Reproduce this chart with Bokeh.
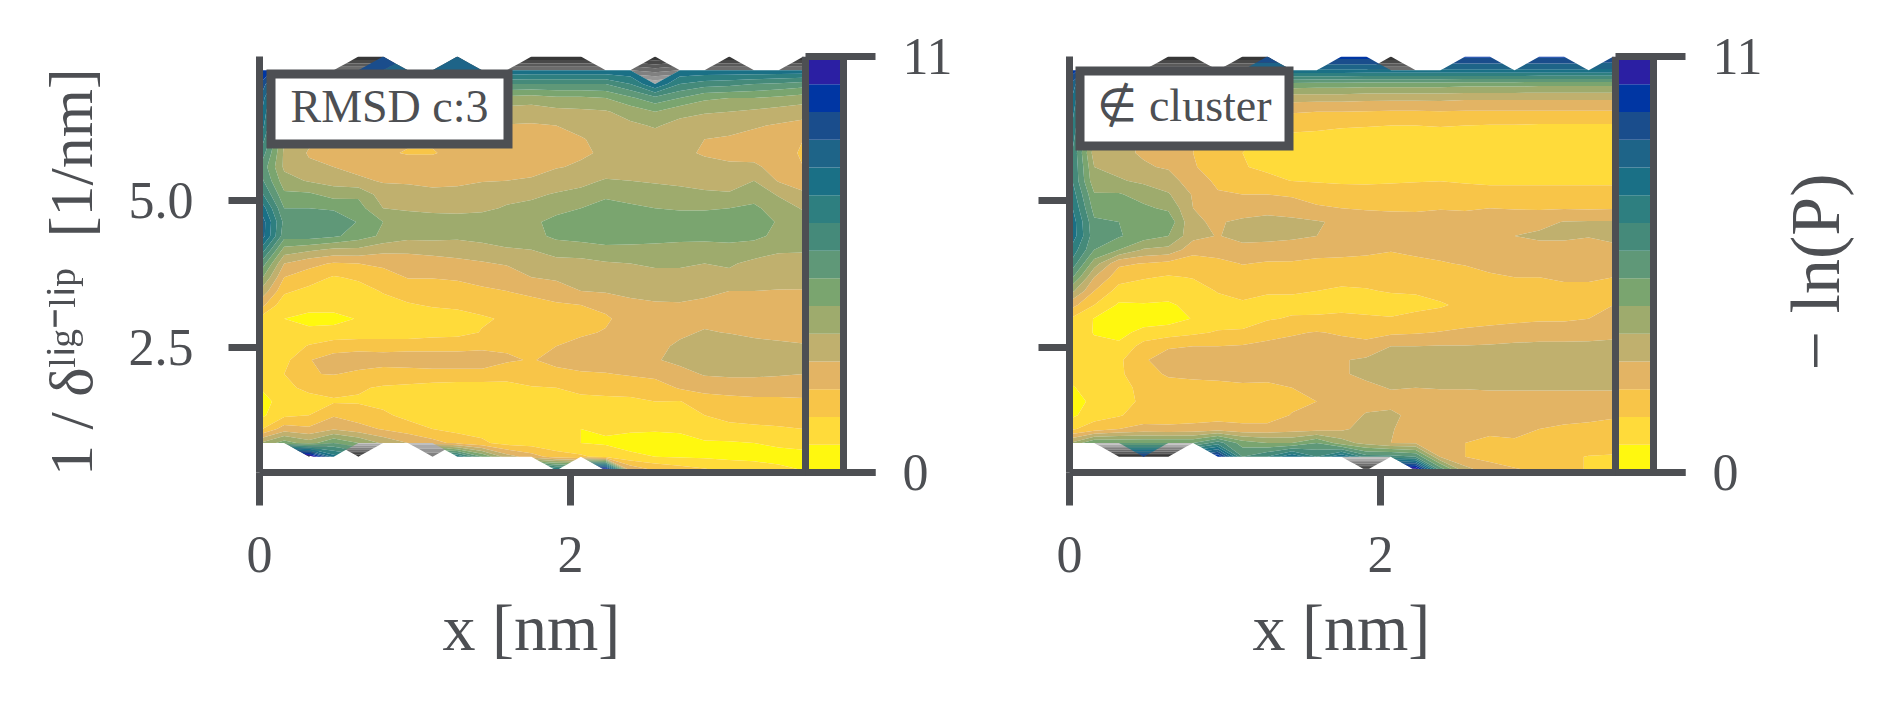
import numpy as np
from bokeh.embed import file_html
from bokeh.layouts import row
from bokeh.models import BoxAnnotation, FixedTicker, Label, LinearAxis, Range1d, Title
from bokeh.plotting import figure
from bokeh.resources import INLINE

N = float("nan")

# grid of the two free-energy surfaces
X_GRID = [i * 0.159 for i in range(23)]
Y_GRID = [7.449 - i * 0.2347 for i in range(31)]
SCALE = 11 / 15  # values below are written in colour-band units

A_COLS = [
 [N, 14,13,12,11.5,11,10,9,8,8.5,9.5, 11,12,12,10,8,6.5,5,3.5,1.8,1.3, 1.2,1.2,1.2,1,.8,.7,1.8,5,N,N],
 [N, 12,9,7,6,5.5,5,4.8,4.8,5.4,6.2, 7,7.7,7.4,5.6,4,3,2.2,1.3,1,1.2, 1.3,1.7,2,1.7,1.2,1.8,3.5,6.5,N,N],
 [N, 13,8,6.5,5.5,4.8,4.2,3.9,4.2,4.9,6.2, 7,7.7,7.5,5.2,3.3,2.5,1.7,1.3,.75,1.2, 2.1,2.95,2.95,2.3,1.5,2,3.2,5.5,16,N],
 [N, 12,8,6,5,4.4,4,3.7,4,4.6,5.6, 6.9,7.5,7.2,4.8,2.9,1.9,1.4,1.3,.75,1.3, 2.6,3.4,3.05,2.3,1.9,2.9,3.9,7,10.5,N],
 [N, 12,8,6,4.8,4,3.5,3.4,3.7,4.2,5.8, 6.4,6.95,6.5,4.8,3,2.2,1.5,1.2,1.05,1.4, 2.7,3.5,2.8,2.1,1.9,2.5,3.4,6,N,N],
 [13, 12,8,6,4.7,3.9,3.3,3.1,3.5,3.9,4.5, 5,6,5.8,4.3,3.2,2.6,2.1,1.5,1.2,1.4, 2.7,3.4,2.6,1.9,1.7,2.2,2.9,4.8,N,N],
 [N, 11,7.5,5.8,4.5,3.8,3.1,2.95,3.4,3.9,4.3, 4.9,5.4,5.3,4.3,3.3,3.05,2.5,1.9,1.2,1.4, 2.7,3.5,2.6,1.8,1.2,1.7,2.5,4,N,N],
 [N, 11,7.5,5.6,4.4,3.7,3.1,2.95,3.4,3.8,4.2, 4.8,5.4,5.3,4.4,3.5,3.05,2.5,2.1,1.5,1.6, 2.7,3.5,2.7,1.6,1.2,1.5,2,3.4,N,N],
 [11.5, 11,7.5,5.5,4.4,3.8,3.3,3.2,3.5,3.8,4.3, 4.8,5.3,5.2,4.5,3.7,3.1,2.7,2.2,1.6,1.7, 2.7,3.5,2.7,1.5,1.2,1.3,1.7,2.7,10,N],
 [N, 11,8,5.8,4.6,4,3.4,3.3,3.5,3.95,4.5, 4.8,5.5,5.4,4.6,3.9,3.2,2.9,2.3,1.9,2.05, 2.8,3.5,2.7,1.5,1.2,1.2,1.6,2.2,7,N],
 [N, 11,8,5.7,4.5,3.95,3.5,3.4,3.6,4,4.7, 5.1,5.6,5.5,4.9,4.1,3.4,3,2.4,2.1,2.4, 2.9,3.1,2.5,1.6,1.3,1.2,1.4,1.6,4.5,N],
 [N, 10.8,8,5.5,4.5,3.9,3.6,3.4,3.7,4.1,4.8, 5.3,5.8,5.7,5,4.5,4,3.2,2.7,2.4,2.6, 2.9,2.95,2.4,1.95,1.6,1.2,1.1,1.5,3.5,N],
 [N, 10.8,8,5.8,4.7,4,3.7,3.5,3.95,4.4,5.1, 5.7,6.3,6.2,5.5,4.6,4.2,3.4,2.9,2.7,2.7, 3,3.2,2.8,2,1.7,1.4,1.2,1.3,2.5,10.5],
 [N, 10.8,8,5.8,4.8,4.2,3.95,3.9,4.1,4.7,5.3, 6,6.5,6.4,5.5,4.7,4.3,4,3,2.8,2.9, 3.2,3.4,2.9,2.2,1.8,1.5,1,1,2.2,N],
 [N, 10.8,8,6,4.9,4.4,4.2,4.1,4.4,5.1,5.8, 6.4,6.7,6.6,5.7,4.9,4.5,4.1,3.2,2.9,3.05, 3.3,3.6,2.95,2.3,1.8,1.5,1.1,.9,1.6,16],
 [N, 10.8,9,6.8,5.4,4.8,4.4,4.2,4.6,5,5.6, 6.2,6.7,6.5,5.7,5,4.6,4.2,3.8,3.3,3.2, 3.5,3.8,3.1,2.4,1.8,1.5,1.15,.6,1.25,4],
 [N, N,11,7.7,6,5.1,4.6,4.3,4.5,4.9,5.4, 6,6.6,6.5,5.6,5.1,4.8,4.3,3.9,3.5,3.4, 3.7,3.9,3.3,2.5,2,1.6,1.1,.6,1,3],
 [N, 10.8,9,7,5.3,4.7,4.4,4.2,4.4,4.8,5.3, 5.9,6.5,6.4,5.5,5.1,4.8,4.2,3.95,3.6,3.8, 4.2,4.3,3.6,3.1,1.95,1.6,1.15,.65,.9,2.6],
 [N, 10.8,8.5,6.2,5.1,4.4,4,3.9,4.3,4.8,5.1, 5.9,6.5,6.4,5.4,5,4.5,4.1,3.9,3.7,4.1, 4.5,4.4,4.1,3.3,2.6,2,1.5,.9,.85,2.2],
 [N, 10.8,8.3,6,5,4.3,3.9,3.7,4.2,4.6,5.1, 6,6.6,6.5,5.5,5.1,4.8,4,3.8,3.7,3.95, 4.6,4.8,4.2,3.4,2.7,2.3,1.7,.9,.75,1.8],
 [N, 10.8,8,6,4.8,4.1,3.7,3.6,4.2,5,5.6, 6.2,6.5,6.3,5.4,4.8,4.4,4,3.7,3.6,3.8, 4.3,4.7,4.2,3.4,2.8,2.4,1.8,1,.7,1.6],
 [N, 10.8,7.8,5.8,4.6,3.9,3.5,3.3,3.6,3.9,4.9, 5.5,5.9,5.7,5.1,4.7,4.4,3.95,3.5,3.4,3.7, 4.2,4.6,4.1,3.4,2.8,2.4,1.9,1.2,.6,1.3],
 [N, 10.8,7.5,5.5,4.4,3.7,3,2.9,3,3.7,4.1, 4.9,5.4,5.3,5.1,4.6,4.3,3.95,3.4,3.3,3.6, 4.1,4.4,4,3.3,2.9,2.5,2,1.3,.7,1],
]

B_COLS = [
 [N, 14,12,11.5,11,10.5,10,9.5,9.5,9.5,10, 10.5,11,11,10,9,7.5,5.5,3.5,2,1.6, 1.5,1.3,1.2,.9,.6,.7,1.8,5,N,N],
 [N, 11,8,6,5.5,5,4.8,4.5,5,5.3,6.1, 6.6,7.2,7.4,7,5.5,4,3,2,.95,.95, 1.2,1.5,1.4,1.3,1.2,1.6,2.5,7,N,N],
 [N, 11,7,5,4.8,4.4,4.2,4.2,4.7,5.1,6.1, 6.6,7,7.1,6,3.2,2.4,1.6,.85,.4,.7, 1.2,1.8,1.8,1.5,1.4,1.9,3,7,N,N],
 [N, 11,7,5,4.2,3.9,3.9,3.9,4.1,4.8,5.6, 6.2,6.9,6.5,4.9,2.95,2.1,1.4,.95,.5,1.3, 2.4,2.95,2.7,2.4,2.3,2.5,3.3,7,13.5,N],
 [N, 11,7,4.8,3.9,3.5,3.3,3.5,3.9,4.4,5.1, 5.8,6.7,6,4.7,2.7,1.9,1.3,.9,.6,1.5, 2.95,3.2,3.1,2.7,2.5,2.6,3.2,7,N,N],
 [N, 11,7,4.7,3.6,3,3.1,3,3.1,3.5,3.9, 4,4.1,4.3,3.4,2.4,2.05,1.6,1.2,1.05,1.8, 3,3.4,3.2,2.7,2.5,2.6,3.3,7,N,N],
 [N, 10.8,7,4.6,3.4,2.8,2.3,2.2,2.5,2.8,3.1, 3.4,3.9,3.95,3.5,2.7,2.2,2.05,1.7,1.5,2.1, 3,3.5,3.2,2.8,2.5,2.6,3.5,8.5,14,N],
 [N, 10.8,6.8,4.5,3.2,2.5,2.1,2,2.05,2.6,3, 3.5,4.2,4.3,3.7,3.05,2.5,2.2,1.9,1.7,2.1, 3.1,3.5,3.2,2.9,2.5,2.6,3.3,6.5,8,N],
 [13, 10.8,6.7,4.5,3.1,2.3,1.9,1.8,1.85,2.2,3, 3.6,4.4,4.3,3.6,2.9,2.4,2.1,1.7,1.9,2.7, 3.2,3.6,3.3,2.8,2.4,2.6,3.3,6,9,N],
 [N, 10.8,6.7,4.4,3.1,2.2,1.8,1.6,1.7,1.98,2.9, 3.4,4.3,4.2,3.5,2.9,2.4,2.1,1.7,2.1,2.9, 3.3,3.7,3.4,3,2.8,3.05,3.5,6,11,N],
 [N, 10.8,6.6,4.4,3,2.2,1.7,1.5,1.6,1.9,2.7, 3.1,4.1,4,3.5,2.7,2.3,2,1.5,2.2,3.05, 3.4,3.8,3.5,3.2,3,3.3,3.6,7,9,N],
 [13.5, 10.8,6.6,4.4,3,2.1,1.6,1.5,1.6,1.85,2.5, 3,3.8,3.8,3.5,2.6,2.2,1.9,1.6,2.3,2.9, 3.3,3.9,3.9,3.3,3.2,3.4,3.8,5.5,11,N],
 [13.5, 10.8,6.5,4.3,2.95,2.05,1.6,1.4,1.5,1.85,2.4, 2.9,3.6,3.6,3.3,2.6,2.2,1.95,1.5,2.2,2.9, 3.1,4.2,4.2,3.8,3.6,4.1,4.4,4.6,8.5,N],
 [N, 10.8,6.5,4.3,2.9,2,1.6,1.4,1.5,1.9,2.4, 2.85,3.5,3.6,3.05,2.7,2.4,2.05,1.7,2.05,2.8, 4,4.4,4.3,4.05,3.7,4.2,4.05,4,8.5,N],
 [N, 10.8,6.5,4.3,2.9,2,1.6,1.4,1.5,1.95,2.4, 2.85,3.4,3.5,3.1,2.9,2.5,2.1,1.7,2.3,2.9, 4,4.5,4.4,4,3.6,3.7,3.7,3.9,8,16],
 [N, 10.8,6.5,4.3,2.95,2.05,1.6,1.4,1.6,1.98,2.5, 2.95,3.4,3.5,3.2,2.95,2.6,2.3,1.9,2.4,3.05, 4.05,4.5,4.5,4.05,3.6,3.4,3.4,3.5,3.9,8],
 [13.2, 10.8,6.4,4.2,2.9,2,1.5,1.4,1.5,1.9,2.4, 2.9,3.4,3.5,3.3,3.05,2.7,2.5,2.2,2.6,3.2, 4.05,4.5,4.5,4.05,3.6,3.3,3.1,3,3,4.5],
 [13.2, 10.8,6.4,4.2,2.9,1.95,1.5,1.4,1.5,1.85,2.3, 3,3.5,3.6,3.4,3.2,2.9,2.6,2.4,2.7,3.3, 4.1,4.6,4.5,4.1,3.6,3.3,3.1,2.9,2.7,3.5],
 [N, 10.8,6.4,4.2,2.9,1.95,1.5,1.4,1.5,1.85,2.3, 2.95,3.5,4,3.5,3.3,3,2.7,2.5,2.8,3.4, 4.2,4.6,4.5,4.1,3.6,3.3,3.1,2.95,2.6,3.1],
 [13.2, 10.8,6.3,4.2,2.9,1.9,1.5,1.4,1.5,1.85,2.3, 2.9,3.7,4.2,3.6,3.3,3,2.8,2.6,2.9,3.4, 4.3,4.7,4.5,4.1,3.6,3.2,3,2.9,2.5,2.9],
 [13.2, 10.8,6.3,4.2,2.9,1.9,1.4,1.3,1.5,1.85,2.3, 2.95,4.05,4.2,3.6,3.4,3.1,2.8,2.6,2.9,3.4, 4.3,4.8,4.6,4.1,3.6,3.2,2.9,2.7,2.2,2.2],
 [N, 10.8,6.3,4.2,2.9,1.9,1.5,1.4,1.5,1.85,2.3, 2.9,4.1,4.05,3.6,3.4,3.1,2.8,2.7,3,3.5, 4.3,4.8,4.6,4.1,3.6,3.2,2.8,2.6,1.95,1.95],
 [13, 10.8,6.3,4.2,2.9,1.9,1.5,1.4,1.5,1.85,2.3, 2.95,4.1,4.4,3.6,3.3,3,2.8,3,3.3,3.7, 4.3,4.8,4.6,4.1,3.6,3.1,2.7,2.5,1.9,1.7],
]

# rims above the top colour band: rows 0-2 and rows 28-30 of the grid
A_GREY_TOP = [
 [N,N,N,N,9,9,N,N,9,N,N,9,9,9,N,N,9,N,N,9,N,N,9],
 [N,N,N,5,5,5,5,5,5,5,5,5,5,5,5,5,5.5,5,5,5,5,5,5],
 [N,N,N,N,N,N,N,N,N,N,N,N,N,N,N,N,2,N,N,N,N,N,N],
]
A_GREY_BOTTOM = [
 [N,1.5,1.5,1.5,1.5,1.5,1.5,1.5,1.5,N,N,N,N,N,N,N,N,N,N,N,N,N,N],
 [N,N,9,N,9,N,N,5,N,N,N,N,N,.5,.5,N,N,N,N,N,N,N,N],
 [N,N,N,N,N,N,N,N,N,N,N,N,N,N,2,N,N,N,N,N,N,N,N],
]
B_GREY_TOP = [
 [N,N,N,N,9,9,N,9,9,N,N,N,N,9,N,N,N,N,N,N,N,N,N],
 [N,N,N,5,5,5,5,5,5,5,5,5,5,5,5,5,N,N,N,N,N,N,N],
 [N]*23,
]
B_GREY_BOTTOM = [
 [N,1,1,1,1,1,N,N,N,N,N,N,N,N,N,N,N,N,N,N,N,N,N],
 [N,N,9,9,9,N,N,N,N,N,N,1,1,1,1,N,N,N,N,N,N,N,N],
 [N,N,N,N,N,N,N,N,N,N,N,N,9,N,3,N,N,N,N,N,N,N,N],
]

LEVELS = list(np.linspace(0, 11, 16))
BAND_COLORS = ["#fff80f", "#ffdb3a", "#f8c548", "#e3b464", "#c0b06e", "#9eab6d", "#7aa56f", "#5f9878",
               "#458a7a", "#2e7f80", "#1a7086", "#1e6488", "#1a4d8c", "#0036a3", "#2b1fa3"]
GREY_LEVELS = list(range(0, 11))
GREY_COLORS = ["#d4d4d4", "#c0c0c0", "#aaaaaa", "#959595", "#808080", "#6c6c6c", "#5a5a5a", "#484848", "#373737", "#262626"]

INK = "#4d4f53"
SERIF = "Liberation Serif"

X_END = 616 / 155.5
Y_START = 2.5 - 125 / 58.8
Y_END = 5 + 144 / 58.8


def px_x(v):
    return (v - 259) / 155.5


def px_y(v):
    return 5 - (v - 200) / 58.8


def panel(cols, grey_top, grey_bottom, width, left_border, right_border, y_labels, box, box_text):
    p = figure(width=width, height=698, frame_width=616, frame_height=416,
               min_border_left=left_border, min_border_right=right_border,
               min_border_top=56, min_border_bottom=226,
               x_range=Range1d(0, X_END), y_range=Range1d(Y_START, Y_END),
               output_backend="svg", toolbar_location=None, x_axis_location=None, y_axis_location=None)
    p.grid.visible = False
    p.outline_line_color = None
    p.background_fill_color = "white"

    x = np.array(X_GRID)
    y = np.array(Y_GRID)
    z = np.array(cols, dtype=float).T * SCALE
    p.contour(x, y[:3][::-1], np.array(grey_top, dtype=float)[::-1], GREY_LEVELS, fill_color=GREY_COLORS, line_color=None)
    p.contour(x, y[28:][::-1], np.array(grey_bottom, dtype=float)[::-1], GREY_LEVELS, fill_color=GREY_COLORS, line_color=None)
    p.contour(x, y[::-1], z[::-1], LEVELS, fill_color=BAND_COLORS, line_color=None)

    # colour bar on its own 0..11 scale
    p.extra_y_ranges["cbar"] = Range1d(0, 11)
    p.quad(left=px_x(808), right=px_x(840), bottom=LEVELS[:-1], top=LEVELS[1:],
           fill_color=BAND_COLORS, line_color=None, y_range_name="cbar")
    p.segment(x0=[px_x(805), px_x(843)], x1=[px_x(805), px_x(843)], y0=[0, 0], y1=[11, 11],
              line_color=INK, line_width=7, y_range_name="cbar")

    style = dict(axis_line_color=INK, axis_line_width=7, major_tick_line_color=INK, major_tick_line_width=7,
                 minor_tick_line_color=None, major_label_text_color=INK, major_label_text_font=SERIF,
                 major_label_text_font_size="52px")
    bottom = LinearAxis(ticker=FixedTicker(ticks=[0, 2]), major_tick_in=0, major_tick_out=33,
                        major_label_standoff=31, **style)
    p.add_layout(bottom, "below")
    left = LinearAxis(ticker=FixedTicker(ticks=[2.5, 5.0]), major_tick_in=0, major_tick_out=31,
                      major_label_standoff=35, major_label_overrides=y_labels, **style)
    p.add_layout(left, "left")
    sty = dict(style)
    sty["axis_line_color"] = None
    right = LinearAxis(y_range_name="cbar", ticker=FixedTicker(ticks=[0, 11]), major_tick_in=70, major_tick_out=0,
                       major_label_standoff=27, **sty)
    p.add_layout(right, "right")

    b = BoxAnnotation(left=box[0], right=box[1], bottom=box[2], top=box[3], fill_color="white", fill_alpha=1,
                      line_color=INK, line_width=9, line_alpha=1, line_join="miter", level="overlay")
    p.add_layout(b)
    p.add_layout(Label(x=(box[0] + box[1]) / 2, y=(box[2] + box[3]) / 2 + 3 / 58.8, text=box_text, text_align="center",
                       text_baseline="middle", text_color=INK, text_font=SERIF, text_font_size="46px",
                       level="overlay"))
    p.add_layout(Title(text="x [nm]", align="left", offset=183, standoff=28, text_color=INK, text_font=SERIF,
                       text_font_size="66px", text_font_style="normal"), "below")
    return p


p1 = panel(A_COLS, A_GREY_TOP, A_GREY_BOTTOM, 1000, 259, 125, {2.5: "2.5", 5.0: "5.0"},
           (px_x(270.5), px_x(507.5), px_y(143.5), px_y(73.5)), "RMSD c:3")
p1.left[0].axis_label = "1 / δˡⁱᵍ⁻ˡⁱᵖ\u00a0\u00a0[1/nm]\u00a0"
p1.left[0].axis_label_text_color = INK
p1.left[0].axis_label_text_font = SERIF
p1.left[0].axis_label_text_font_style = "normal"
p1.left[0].axis_label_text_font_size = "62px"
p1.left[0].axis_label_standoff = 21

p2 = panel(B_COLS, B_GREY_TOP, B_GREY_BOTTOM, 765, 69, 80, {2.5: "", 5.0: ""},
           (px_x(259 + 10.5), px_x(259 + 219.5), px_y(145.5), px_y(70.5)), "∉ cluster")

# the colour-bar caption reads upwards, so it sits in a strip of its own beside the second panel;
# the row lines up its frames, so this strip's frame spans the same height as the panels'
p3 = figure(width=117, height=698, frame_width=117, frame_height=416, x_range=Range1d(0, 117),
            y_range=Range1d(472, 56), output_backend="svg",
            toolbar_location=None, x_axis_location=None, y_axis_location=None,
            min_border_left=0, min_border_right=0, min_border_top=56, min_border_bottom=226)
p3.grid.visible = False
p3.outline_line_color = None
p3.add_layout(Label(x=50, y=370, text="− ln(P)", text_align="left", text_baseline="alphabetic", angle=np.pi / 2,
                    text_color=INK, text_font=SERIF, text_font_size="70px"))

layout = row(p1, p2, p3, spacing=0)
open("out.html", "w").write(file_html(layout, INLINE))
